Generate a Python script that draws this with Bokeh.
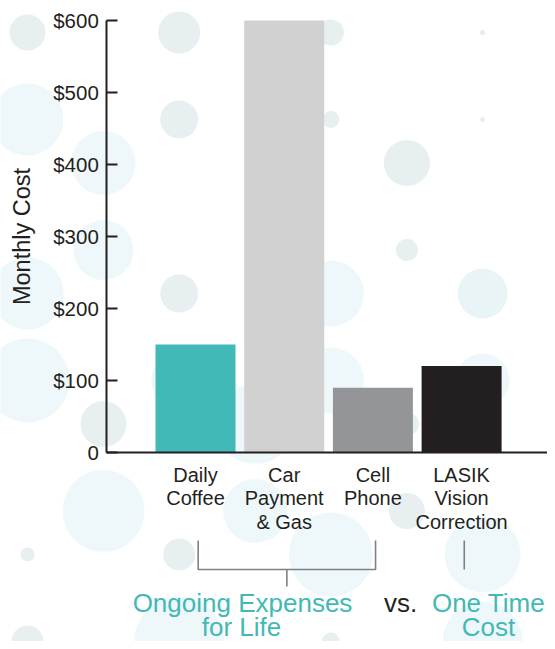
from bokeh.plotting import figure
from bokeh.models import Range1d, FixedTicker, ColumnDataSource
from bokeh.embed import file_html
from bokeh.resources import INLINE
from bokeh.core.properties import value

# ---------------- data ----------------
categories = ["Daily\nCoffee", "Car\nPayment\n& Gas", "Cell\nPhone", "LASIK\nVision\nCorrection"]
monthly_cost = [150, 600, 90, 120]
bar_colors = ["#40b9b7", "#d1d1d1", "#939598", "#231f20"]
y_ticks = [0, 100, 200, 300, 400, 500, 600]
y_tick_labels = ["0", "$100", "$200", "$300", "$400", "$500", "$600"]
group_lines = ["Ongoing Expenses", "for Life", "vs.", "One Time", "Cost"]
group_colors = ["#42b9b4", "#42b9b4", "#231f20", "#42b9b4", "#42b9b4"]

# decorative bubble lattice (radius in px, tone) per half-row
bubble_r = [
    [18, 21, 13, 2.7],
    [0, 0, 0, 0],
    [36, 19, 8.5, 2.5],
    [32, 0, 23, 0],
    [0, 0, 0, 0],
    [30, 0, 11, 0],
    [36, 19, 33, 25],
    [0, 0, 0, 0],
    [42, 28, 33, 27],
    [23, 40, 12, 8],
    [0, 0, 0, 0],
    [41, 32, 18, 0],
    [7, 16, 42, 38],
    [0, 0, 0, 0],
    [16, 45, 9, 40],
]
bubble_tone = [
    "gggg", "gggg", "cggg", "cggg", "gggg", "cggg", "cgcm", "gggg",
    "cccc", "gcgg", "gggg", "ccgg", "ggcc", "gggg", "gcgc",
]
tone_colors = {"g": "#e7eff1", "c": "#eef8fa", "m": "#e9f4f6"}

# ---------------- geometry ----------------
W, H = 547, 641
PX_X = 88.7        # px per category step
PX_Y = 0.72        # px per dollar
X0 = 195           # canvas x of first category centre
Y0 = 452           # canvas y (from top) of $0
x_start = -X0 / PX_X
x_end = x_start + W / PX_X
y_end = Y0 / PX_Y
y_start = -(H - Y0) / PX_Y


def dx(px):
    return x_start + px / PX_X


def dy(py):
    return (Y0 - py) / PX_Y


p = figure(width=W, height=H, x_range=Range1d(x_start, x_end), y_range=Range1d(y_start, y_end),
           output_backend="svg", toolbar_location=None, min_border=0,
           outline_line_color=None, background_fill_color="white", border_fill_color="white")
p.grid.visible = False

# bubbles
bx, by, bs, bc = [], [], [], []
for k, (row, tones) in enumerate(zip(bubble_r, bubble_tone)):
    for i, (r, t) in enumerate(zip(row, tones)):
        if r <= 0:
            continue
        px = (27 if k % 2 == 0 else 103) + 151.7 * i
        py = 32 + 43.5 * k
        bx.append(dx(px)); by.append(dy(py)); bs.append(2 * r); bc.append(tone_colors[t])
p.scatter(x=bx, y=by, size=bs, fill_color=bc, line_color=None)

# bars
xs = list(range(len(categories)))
src = ColumnDataSource(dict(x=xs, top=monthly_cost, color=bar_colors))
p.vbar(x="x", top="top", width=80 / PX_X, bottom=0, fill_color="color", line_color=None, source=src)

axis_color = "#231f20"
font = "Liberation Sans"

# x axis
xa = p.xaxis[0]
xa.fixed_location = 0
xa.ticker = FixedTicker(ticks=xs)
xa.major_label_overrides = {i: c for i, c in enumerate(categories)}
xa.major_tick_line_color = None
xa.minor_tick_line_color = None
xa.axis_line_width = 2
xa.axis_line_color = axis_color
xa.bounds = (-1, len(categories))
xa.major_label_text_font = font
xa.major_label_text_font_size = "20px"
xa.major_label_text_color = axis_color
xa.major_label_text_line_height = 1.07
xa.major_label_standoff = 5

# end tick of x axis
p.segment(x0=[len(categories)], y0=[0], x1=[len(categories)], y1=[9 / PX_Y],
          line_color=axis_color, line_width=2)

# y axis
ya = p.yaxis[0]
ya.fixed_location = -1
ya.ticker = FixedTicker(ticks=y_ticks)
ya.major_label_overrides = dict(zip(y_ticks, y_tick_labels))
ya.bounds = (0, 600)
ya.major_tick_in = 11
ya.major_tick_out = 0
ya.major_tick_line_width = 2
ya.major_tick_line_color = axis_color
ya.minor_tick_line_color = None
ya.axis_line_width = 2
ya.axis_line_color = axis_color
ya.major_label_text_font = font
ya.major_label_text_font_size = "20.5px"
ya.major_label_text_color = axis_color
ya.major_label_standoff = 8
ya.axis_label = "Monthly Cost"
ya.axis_label_text_font = font
ya.axis_label_text_font_size = "23.5px"
ya.axis_label_text_font_style = "normal"
ya.axis_label_text_color = axis_color
ya.axis_label_standoff = 15

# brackets
off = 0.03
yt, yb, ys = dy(540), dy(569), dy(586)
p.multi_line(xs=[[0 + off, 0 + off, 2 + off, 2 + off], [1 + off, 1 + off], [3 + off, 3 + off]],
             ys=[[yt, yb, yb, yt], [yb, ys], [yt, yb]],
             line_color="#808080", line_width=1.6)

# group labels
gx = [dx(242), dx(241), dx(400), dx(488), dx(488)]
gy = [dy(602), dy(626), dy(602), dy(602), dy(626)]
p.text(x=gx, y=gy, text=group_lines, text_color=group_colors, text_align="center",
       text_baseline="alphabetic", text_font=value(font), text_font_size="26px")

open("out.html", "w").write(file_html(p, INLINE))
